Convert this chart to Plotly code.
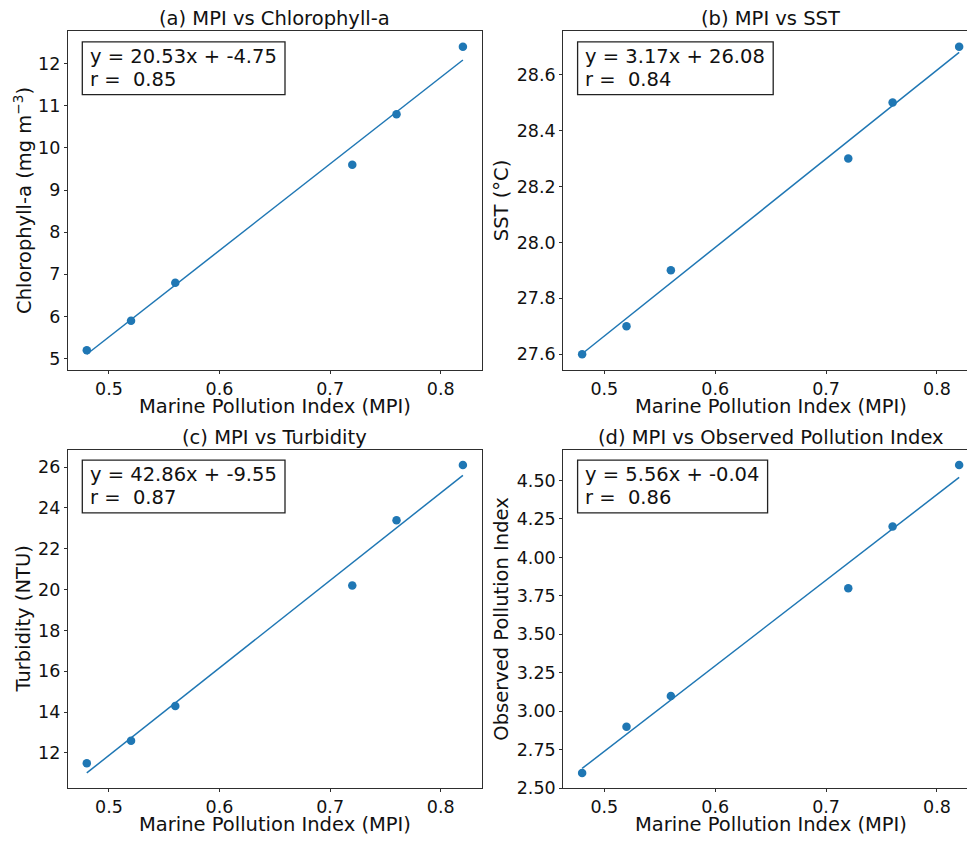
import plotly.graph_objects as go

# ---------------- data ----------------
mpi = [0.48, 0.52, 0.56, 0.72, 0.76, 0.82]
chlorophyll = [5.2, 5.9, 6.8, 9.6, 10.8, 12.4]
sst = [27.6, 27.7, 27.9, 28.3, 28.5, 28.7]
turbidity = [11.5, 12.6, 14.3, 20.2, 23.4, 26.1]
observed_pi = [2.6, 2.9, 3.1, 3.8, 4.2, 4.6]

slopes = [20.53, 3.17, 42.86, 5.56]
intercepts = [-4.75, 26.08, -9.55, -0.04]
r_values = [0.85, 0.84, 0.87, 0.86]

titles = ["(a) MPI vs Chlorophyll-a", "(b) MPI vs SST",
          "(c) MPI vs Turbidity", "(d) MPI vs Observed Pollution Index"]
y_labels = ["Chlorophyll-a (mg m<sup>\u22123</sup>)", "SST (\u00b0C)",
            "Turbidity (NTU)", "Observed Pollution Index"]
x_label = "Marine Pollution Index (MPI)"

x_ticks = [0.5, 0.6, 0.7, 0.8]
x_tick_labels = ["0.5", "0.6", "0.7", "0.8"]
chl_ticks = [5, 6, 7, 8, 9, 10, 11, 12]
chl_tick_labels = ["5", "6", "7", "8", "9", "10", "11", "12"]
sst_ticks = [27.6, 27.8, 28.0, 28.2, 28.4, 28.6]
sst_tick_labels = ["27.6", "27.8", "28.0", "28.2", "28.4", "28.6"]
turb_ticks = [12, 14, 16, 18, 20, 22, 24, 26]
turb_tick_labels = ["12", "14", "16", "18", "20", "22", "24", "26"]
opi_ticks = [2.5, 2.75, 3.0, 3.25, 3.5, 3.75, 4.0, 4.25, 4.5]
opi_tick_labels = ["2.50", "2.75", "3.00", "3.25", "3.50", "3.75", "4.00", "4.25", "4.50"]

series = [chlorophyll, sst, turbidity, observed_pi]
y_tick_sets = [(chl_ticks, chl_tick_labels), (sst_ticks, sst_tick_labels),
               (turb_ticks, turb_tick_labels), (opi_ticks, opi_tick_labels)]

# ---------------- layout geometry (pixels) ----------------
W, H = 967, 848
FONT = "DejaVu Sans"
BLUE = "#1f77b4"
AX_LEFT = [68.0, 563.3]
AX_RIGHT = [481.7, 978.0]
AX_TOP = [31.7, 455.0]
AX_BOTTOM = [374.0, 797.7]
YLAB_OFFSET = [44.5, 61.6]
BOX_W = [202.7, 195.6, 202.7, 190.0]
TICK_SIZE = 17.5
LABEL_SIZE = 19.5


def fx(p):
    return p / W


def fy(p):
    return 1 - p / H


fig = go.Figure()

x_min, x_max = min(mpi), max(mpi)
x_pad = 0.05 * (x_max - x_min)
x_lo, x_hi = x_min - x_pad, x_max + x_pad

shapes = []
annotations = []

for i in range(4):
    row, col = divmod(i, 2)
    n = "" if i == 0 else str(i + 1)
    xa, ya = "x" + n, "y" + n
    ys = series[i]
    line_x = [x_min, x_max]
    line_y = [slopes[i] * v + intercepts[i] for v in line_x]

    fig.add_trace(go.Scatter(x=line_x, y=line_y, mode="lines",
                             line=dict(color=BLUE, width=1.5),
                             xaxis=xa, yaxis=ya, showlegend=False,
                             hoverinfo="skip"))
    fig.add_trace(go.Scatter(x=mpi, y=ys, mode="markers",
                             marker=dict(color=BLUE, size=8.5),
                             xaxis=xa, yaxis=ya, showlegend=False))

    y_all = list(ys) + line_y
    y_min, y_max = min(y_all), max(y_all)
    y_pad = 0.05 * (y_max - y_min)

    L, R = AX_LEFT[col], AX_RIGHT[col]
    T, B = AX_TOP[row], AX_BOTTOM[row]
    R_vis = min(R, W)
    xr_hi = x_lo + (x_hi - x_lo) * (R_vis - L) / (R - L)

    axis_common = dict(showgrid=False, zeroline=False, showline=True,
                       linecolor="#2e2e2e", linewidth=1.2, ticks="outside",
                       ticklen=3, tickwidth=1, tickcolor="#2e2e2e",
                       tickfont=dict(family=FONT, size=TICK_SIZE, color="#111"))
    fig.layout["xaxis" + n] = dict(
        domain=[fx(L), fx(R_vis)], range=[x_lo, xr_hi], anchor=ya,
        tickvals=x_ticks, ticktext=x_tick_labels, mirror=True, **axis_common)
    fig.layout["yaxis" + n] = dict(
        domain=[fy(B), fy(T)], range=[y_min - y_pad, y_max + y_pad], anchor=xa,
        tickvals=y_tick_sets[i][0], ticktext=y_tick_sets[i][1],
        mirror=(R <= W), **axis_common)

    # subplot title
    annotations.append(dict(text=titles[i], xref="paper", yref="paper",
                            x=fx((L + R) / 2), y=fy(T - 12.6), xanchor="center",
                            yanchor="middle", showarrow=False,
                            font=dict(family=FONT, size=LABEL_SIZE, color="#111")))
    # x label
    annotations.append(dict(text=x_label, xref="paper", yref="paper",
                            x=fx((L + R) / 2), y=fy(B + 37), xanchor="center",
                            yanchor="middle", showarrow=False,
                            font=dict(family=FONT, size=LABEL_SIZE, color="#111")))
    # y label
    annotations.append(dict(text=y_labels[i], xref="paper", yref="paper",
                            x=fx(L - YLAB_OFFSET[col]), y=fy((T + B) / 2),
                            xanchor="center", yanchor="middle", textangle=-90,
                            showarrow=False,
                            font=dict(family=FONT, size=LABEL_SIZE, color="#111")))
    # stats box
    bx0 = L + 14.3
    shapes.append(dict(type="rect", xref="paper", yref="paper",
                       x0=fx(bx0), x1=fx(bx0 + BOX_W[i]),
                       y0=fy(T + 10.6), y1=fy(T + 64.0),
                       line=dict(color="#222", width=1.3), fillcolor="white"))
    eq = f"y = {slopes[i]:.2f}x + {intercepts[i]:.2f}"
    rt = f"r =\u00a0 {r_values[i]:.2f}"
    for txt, dy in ((eq, 25.6), (rt, 48.3)):
        annotations.append(dict(text=txt, xref="paper", yref="paper",
                                x=fx(L + 20.0), y=fy(T + dy), xanchor="left",
                                yanchor="middle", showarrow=False,
                                font=dict(family=FONT, size=LABEL_SIZE, color="#111")))

fig.update_layout(width=W, height=H, margin=dict(l=0, r=0, t=0, b=0),
                  paper_bgcolor="white", plot_bgcolor="white",
                  shapes=shapes, annotations=annotations,
                  font=dict(family=FONT), hovermode=False)

fig.write_html("out.html", config={"displayModeBar": False},
               post_script="document.body.style.margin='0';"
                           "document.body.style.overflow='hidden';")
